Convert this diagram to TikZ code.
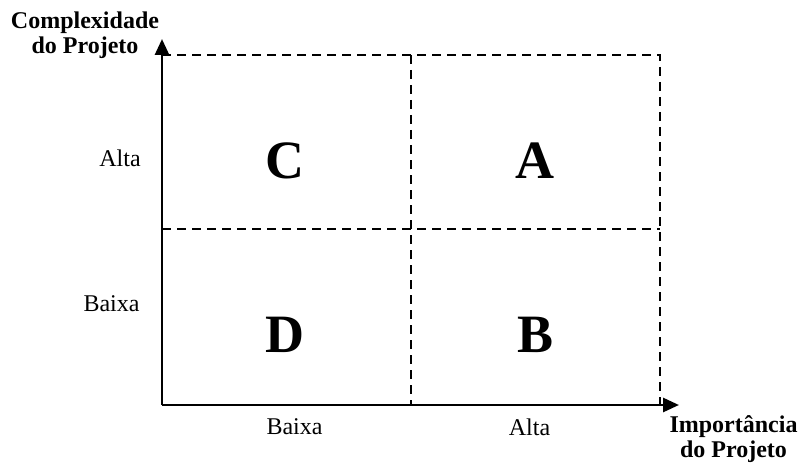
\documentclass[tikz,border=0pt]{standalone}
\usepackage{fontspec}
\setmainfont{Liberation Serif}
\usetikzlibrary{arrows.meta}

\tikzset{
  axis/.style={line width=2.8pt,-{Triangle[length=16pt,width=14pt]}},
  grid/.style={line width=1.6pt,dash pattern=on 9pt off 6pt},
  quad/.style={anchor=center,inner sep=0pt,font=\fontsize{54}{56}\selectfont\bfseries},
  lvl/.style={anchor=center,inner sep=0pt,font=\fontsize{24}{26}\selectfont},
  axlabel/.style={anchor=center,inner sep=0pt,align=center,font=\fontsize{24}{25}\selectfont\bfseries}
}

\begin{document}
\begin{tikzpicture}[x=1pt,y=-1pt]
\path[use as bounding box] (0,0) rectangle (799,465);
% corners of the matrix
\coordinate (o) at (162,405);
\coordinate (ytip) at (162,39);
\coordinate (xtip) at (679,405);
\coordinate (tl) at (162,55);
\coordinate (tr) at (660,55);
\coordinate (br) at (660,405);
\coordinate (midtop) at (411,55);
\coordinate (midbot) at (411,405);
\coordinate (midleft) at (162,229);
\coordinate (midright) at (660,229);
% dashed grid
\draw[grid] (tl) -- (tr) -- (br);
\draw[grid] (midtop) -- (midbot);
\draw[grid] (midleft) -- (midright);
% axes
\draw[axis] (o) -- (ytip);
\draw[axis] (o) -- (xtip);
% quadrants
\node[quad] (qc) at (285,161) {C};
\node[quad] (qa) at (535,160.5) {A};
\node[quad] (qd) at (285,334.5) {D};
\node[quad] (qb) at (535,334.5) {B};
% levels
\node[lvl] (yhigh) at (120,158) {Alta};
\node[lvl] (ylow) at (111.5,304) {Baixa};
\node[lvl] (xlow) at (294.5,427) {Baixa};
\node[lvl] (xhigh) at (529.5,427) {Alta};
% axis titles
\node[axlabel] (ytitle) at (85,35) {Complexidade\\do Projeto};
\node[axlabel] (xtitle) at (733.5,439.5) {Importância\\do Projeto};
\end{tikzpicture}
\end{document}
